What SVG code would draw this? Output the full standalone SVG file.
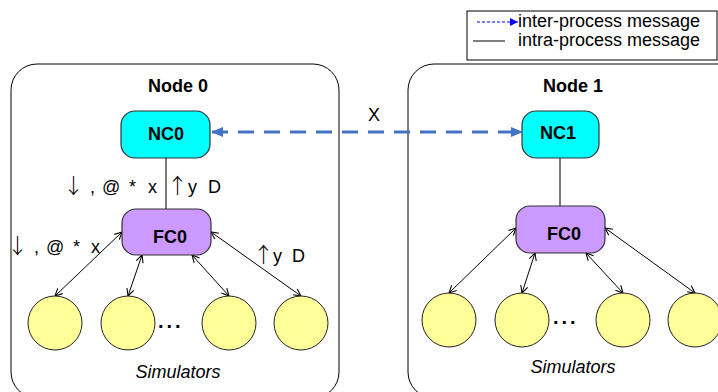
<svg xmlns="http://www.w3.org/2000/svg" width="718" height="392" viewBox="0 0 718 392">
  <style>
    text { font-family: "Liberation Sans", Arial, sans-serif; fill: #000; }
    .title { font-size: 18px; font-weight: bold; text-anchor: middle; }
    .lbl { font-size: 18px; font-weight: bold; text-anchor: middle; }
    .msg { font-size: 18px; }
    .arr { font-family: "Noto Sans CJK SC", sans-serif; font-size: 21px; font-weight: 300; }
    .legend { font-size: 18px; }
    .dots { font-size: 20px; font-weight: bold; letter-spacing: 3px; }
    .sim { font-size: 18px; font-style: italic; text-anchor: middle; }
    .box { fill: #fff; stroke: #000; stroke-width: 1; }
    .nc { fill: #00FFFF; stroke: #333; stroke-width: 1.2; }
    .fc { fill: #CC99FF; stroke: #333; stroke-width: 1.2; }
    .simc { fill: #FFFF99; stroke: #222; stroke-width: 1; }
    .link { stroke: #222; stroke-width: 1.2; fill: none; }
    .bi { stroke: #000; stroke-width: 1; fill: none; marker-start: url(#open); marker-end: url(#open); }
    .inter { stroke: #4472C4; stroke-width: 3; stroke-dasharray: 16 10; fill: none; }
  </style>
  <defs>
    <marker id="open" viewBox="0 0 10 10" refX="9" refY="5" markerWidth="9" markerHeight="9" markerUnits="userSpaceOnUse" orient="auto-start-reverse">
      <path d="M1,1 L9,5 L1,9" fill="none" stroke="#000" stroke-width="1.2"/>
    </marker>
    <marker id="tri" viewBox="0 0 12 10" refX="11" refY="5" markerWidth="12" markerHeight="10" markerUnits="userSpaceOnUse" orient="auto-start-reverse">
      <path d="M0,0 L12,5 L0,10 Z" fill="#4472C4"/>
    </marker>
    <marker id="tri-legend" viewBox="0 0 8 8" refX="8" refY="4" markerWidth="8" markerHeight="8" markerUnits="userSpaceOnUse" orient="auto">
      <path d="M0,0 L8,4 L0,8 Z" fill="#0000FF"/>
    </marker>
  </defs>

  <!-- legend -->
  <g id="legend">
    <rect x="467" y="11" width="250" height="49" fill="#fff" stroke="#000" stroke-width="1"/>
    <line x1="477" y1="22" x2="518" y2="22" stroke="#0000FF" stroke-width="1" stroke-dasharray="3 2" marker-end="url(#tri-legend)"/>
    <text class="legend" x="518" y="27">inter-process message</text>
    <line x1="473" y1="41" x2="505" y2="41" stroke="#000" stroke-width="1"/>
    <text class="legend" x="518" y="46">intra-process message</text>
  </g>

  <!-- machine containers -->
  <g id="node0">
    <rect class="box" x="11" y="64" width="328" height="334" rx="26"/>
    <text class="title" x="178" y="92">Node 0</text>
  </g>
  <g id="node1">
    <rect class="box" x="408" y="64" width="340" height="334" rx="26"/>
    <text class="title" x="573" y="92">Node 1</text>
  </g>

  <!-- connectors -->
  <g id="connectors">
    <line class="inter" x1="212" y1="132" x2="522" y2="132" marker-start="url(#tri)" marker-end="url(#tri)"/>
    <line class="link" x1="166" y1="158" x2="166" y2="209"/>
    <line class="link" x1="560" y1="158" x2="560" y2="206"/>
    <line class="bi" x1="122" y1="232" x2="55" y2="296"/>
    <line class="bi" x1="142" y1="255" x2="128" y2="296"/>
    <line class="bi" x1="192" y1="255" x2="229" y2="296"/>
    <line class="bi" x1="211" y1="232" x2="301" y2="296"/>
    <line class="bi" x1="516" y1="228" x2="449" y2="293"/>
    <line class="bi" x1="535" y1="253" x2="522" y2="293"/>
    <line class="bi" x1="586" y1="253" x2="623" y2="293"/>
    <line class="bi" x1="605" y1="228" x2="695" y2="293"/>
  </g>

  <!-- message labels -->
  <g id="labels">
    <text class="msg" x="368" y="121">X</text>
    <text class="msg" y="193"><tspan class="arr" x="63">↓</tspan><tspan x="90">,</tspan><tspan x="102">@</tspan><tspan x="129">*</tspan><tspan x="148">x</tspan></text>
    <text class="msg" y="193"><tspan class="arr" x="167">↑</tspan><tspan x="188">y</tspan><tspan x="208">D</tspan></text>
    <text class="msg" y="253"><tspan class="arr" x="7">↓</tspan><tspan x="34">,</tspan><tspan x="46">@</tspan><tspan x="73">*</tspan><tspan x="91">x</tspan></text>
    <text class="msg" y="262"><tspan class="arr" x="253">↑</tspan><tspan x="273">y</tspan><tspan x="292">D</tspan></text>
  </g>

  <!-- controllers, node 0 -->
  <g id="nc0">
    <rect class="nc" x="121" y="111" width="89" height="47" rx="14"/>
    <text class="lbl" x="166" y="140">NC0</text>
  </g>
  <g id="fc0-node0">
    <rect class="fc" x="122" y="209" width="89" height="46" rx="14"/>
    <text class="lbl" x="170" y="243">FC0</text>
  </g>

  <!-- controllers, node 1 -->
  <g id="nc1">
    <rect class="nc" x="522" y="111" width="77" height="47" rx="14"/>
    <text class="lbl" x="558" y="139">NC1</text>
  </g>
  <g id="fc0-node1">
    <rect class="fc" x="516" y="206" width="89" height="47" rx="14"/>
    <text class="lbl" x="564" y="240">FC0</text>
  </g>

  <!-- simulators, node 0 -->
  <g id="sims-node0">
    <circle class="simc" cx="55" cy="323" r="27"/>
    <circle class="simc" cx="128" cy="323" r="27"/>
    <circle class="simc" cx="229" cy="323" r="27"/>
    <circle class="simc" cx="301" cy="323" r="27"/>
    <text class="dots" x="158" y="328">...</text>
    <text class="sim" x="178" y="378">Simulators</text>
  </g>

  <!-- simulators, node 1 -->
  <g id="sims-node1">
    <circle class="simc" cx="449" cy="320" r="27"/>
    <circle class="simc" cx="522" cy="320" r="27"/>
    <circle class="simc" cx="623" cy="320" r="27"/>
    <circle class="simc" cx="695" cy="320" r="27"/>
    <text class="dots" x="553" y="324">...</text>
    <text class="sim" x="573" y="373">Simulators</text>
  </g>
</svg>
